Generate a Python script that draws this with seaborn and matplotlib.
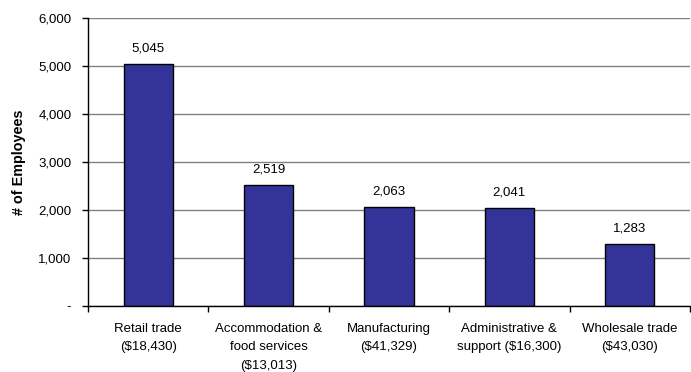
import matplotlib
matplotlib.use("Agg")
import matplotlib.pyplot as plt
import seaborn as sns
import pandas as pd
from matplotlib.ticker import FixedLocator, FuncFormatter

categories = ["Retail trade\n($18,430)", "Accommodation &\nfood services\n($13,013)",
              "Manufacturing\n($41,329)", "Administrative &\nsupport ($16,300)",
              "Wholesale trade\n($43,030)"]
employees = [5045, 2519, 2063, 2041, 1283]
yticks = [0, 1000, 2000, 3000, 4000, 5000, 6000]

sns.set_theme(style="white")
plt.rcParams['font.family'] = ['Liberation Sans', 'DejaVu Sans']

df = pd.DataFrame({"cat": categories, "val": employees})

fig = plt.figure(figsize=(6.91, 3.72), dpi=100)
ax = fig.add_axes([88/691, 1-306/372, (690-88)/691, (306-18)/372])

sns.barplot(data=df, x="cat", y="val", color="#333399", saturation=1,
            edgecolor="black", linewidth=1, width=0.41, ax=ax, zorder=3)

ax.set_xlim(-0.5, len(categories)-0.5)
ax.set_ylim(0, 6000)
ax.set_yticks(yticks)
ax.yaxis.set_major_formatter(FuncFormatter(lambda v, p: "-" if v == 0 else f"{int(v):,}"))
ax.grid(axis="y", color="#808080", linewidth=1, zorder=0)
ax.grid(axis="x", visible=False)

for s in ["top", "right"]:
    ax.spines[s].set_visible(False)
for s in ["left", "bottom"]:
    ax.spines[s].set_color("black")
    ax.spines[s].set_linewidth(1)
    ax.spines[s].set_zorder(4)

ax.xaxis.set_minor_locator(FixedLocator([i - 0.5 for i in range(len(categories)+1)]))
ax.tick_params(axis="x", which="major", length=0, pad=12, labelsize=9.5, colors="black")
ax.tick_params(axis="x", which="minor", length=4, width=1, color="black", direction="out", bottom=True)
ax.tick_params(axis="y", which="major", length=4, width=1, color="black", direction="out", left=True,
               labelsize=9.5, pad=8, labelcolor="black")
for lbl in ax.get_xticklabels():
    lbl.set_horizontalalignment("center")
    lbl.set_multialignment("center")
    lbl.set_linespacing(1.75)
for lbl in ax.get_yticklabels():
    lbl.set_horizontalalignment("right")

ax.set_xlabel("")
ax.set_ylabel("# of Employees", fontsize=10.4, fontweight="bold", labelpad=9, color="black")

for i, v in enumerate(employees):
    ax.annotate(f"{v:,}", (i, v), xytext=(0, 7), textcoords="offset points",
                ha="center", va="bottom", fontsize=9.5, color="black")

fig.savefig("out.png", dpi=100)
